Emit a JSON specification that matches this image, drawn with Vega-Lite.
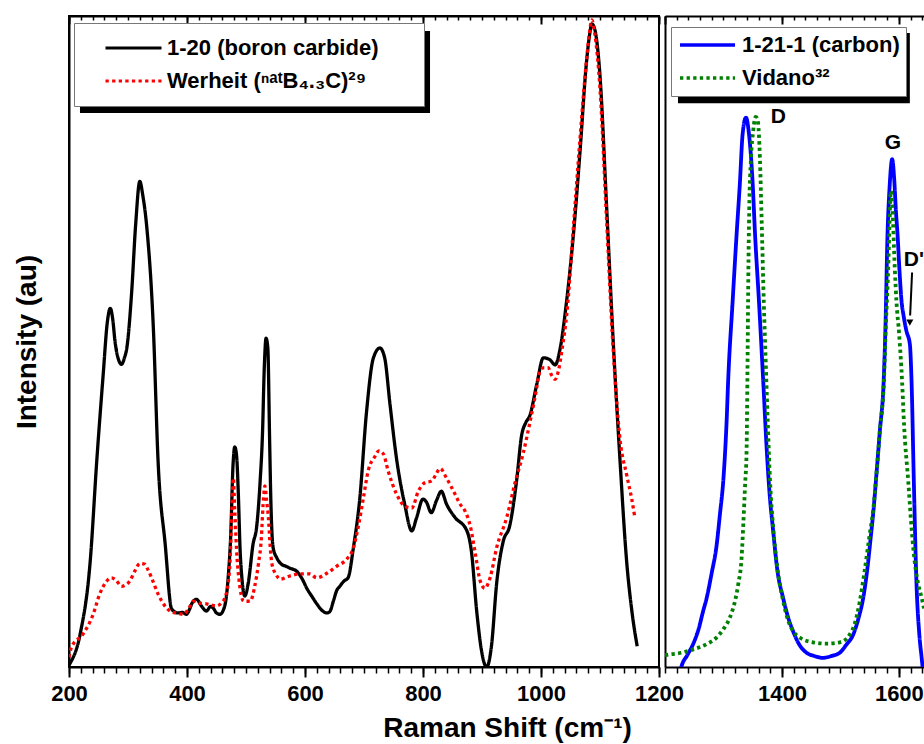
{
  "$schema": "https://vega.github.io/schema/vega-lite/v6.json",
  "background": "white",
  "padding": {"left": 12, "top": 14, "right": 0, "bottom": 0},
  "autosize": {"type": "pad"},
  "config": {
    "font": "Liberation Sans",
    "axis": {"grid": false, "domainColor": "black", "tickColor": "black", "labelColor": "black", "titleColor": "black"}
  },
  "datasets": {
    "boron": [
      {"shift": 200, "intensity": 0.3, "series": "1-20 (boron carbide)"},
      {"shift": 202, "intensity": 0.6, "series": "1-20 (boron carbide)"},
      {"shift": 219, "intensity": 5.1, "series": "1-20 (boron carbide)"},
      {"shift": 236, "intensity": 16.3, "series": "1-20 (boron carbide)"},
      {"shift": 247, "intensity": 31.6, "series": "1-20 (boron carbide)"},
      {"shift": 258, "intensity": 45, "series": "1-20 (boron carbide)"},
      {"shift": 265, "intensity": 53, "series": "1-20 (boron carbide)"},
      {"shift": 270, "intensity": 55.1, "series": "1-20 (boron carbide)"},
      {"shift": 274, "intensity": 53.5, "series": "1-20 (boron carbide)"},
      {"shift": 278, "intensity": 50, "series": "1-20 (boron carbide)"},
      {"shift": 284, "intensity": 47.2, "series": "1-20 (boron carbide)"},
      {"shift": 289, "intensity": 46.5, "series": "1-20 (boron carbide)"},
      {"shift": 294, "intensity": 47.5, "series": "1-20 (boron carbide)"},
      {"shift": 298, "intensity": 49, "series": "1-20 (boron carbide)"},
      {"shift": 306, "intensity": 57.3, "series": "1-20 (boron carbide)"},
      {"shift": 313, "intensity": 68, "series": "1-20 (boron carbide)"},
      {"shift": 320, "intensity": 74.6, "series": "1-20 (boron carbide)"},
      {"shift": 325, "intensity": 72.5, "series": "1-20 (boron carbide)"},
      {"shift": 332, "intensity": 67.4, "series": "1-20 (boron carbide)"},
      {"shift": 343, "intensity": 52, "series": "1-20 (boron carbide)"},
      {"shift": 351, "intensity": 31.6, "series": "1-20 (boron carbide)"},
      {"shift": 363, "intensity": 18.9, "series": "1-20 (boron carbide)"},
      {"shift": 374, "intensity": 8.9, "series": "1-20 (boron carbide)"},
      {"shift": 385, "intensity": 8.3, "series": "1-20 (boron carbide)"},
      {"shift": 392, "intensity": 8.4, "series": "1-20 (boron carbide)"},
      {"shift": 399, "intensity": 8.1, "series": "1-20 (boron carbide)"},
      {"shift": 404, "intensity": 8.8, "series": "1-20 (boron carbide)"},
      {"shift": 408, "intensity": 9.7, "series": "1-20 (boron carbide)"},
      {"shift": 416, "intensity": 10.4, "series": "1-20 (boron carbide)"},
      {"shift": 425, "intensity": 9.3, "series": "1-20 (boron carbide)"},
      {"shift": 433, "intensity": 8.6, "series": "1-20 (boron carbide)"},
      {"shift": 440, "intensity": 9.3, "series": "1-20 (boron carbide)"},
      {"shift": 444, "intensity": 9.1, "series": "1-20 (boron carbide)"},
      {"shift": 450, "intensity": 8.3, "series": "1-20 (boron carbide)"},
      {"shift": 456, "intensity": 8.1, "series": "1-20 (boron carbide)"},
      {"shift": 464, "intensity": 9.4, "series": "1-20 (boron carbide)"},
      {"shift": 470, "intensity": 14, "series": "1-20 (boron carbide)"},
      {"shift": 474, "intensity": 20, "series": "1-20 (boron carbide)"},
      {"shift": 478, "intensity": 31, "series": "1-20 (boron carbide)"},
      {"shift": 481, "intensity": 33.8, "series": "1-20 (boron carbide)"},
      {"shift": 484, "intensity": 32.5, "series": "1-20 (boron carbide)"},
      {"shift": 487, "intensity": 26.6, "series": "1-20 (boron carbide)"},
      {"shift": 490, "intensity": 18, "series": "1-20 (boron carbide)"},
      {"shift": 493, "intensity": 13.7, "series": "1-20 (boron carbide)"},
      {"shift": 498, "intensity": 10.9, "series": "1-20 (boron carbide)"},
      {"shift": 504, "intensity": 13, "series": "1-20 (boron carbide)"},
      {"shift": 512, "intensity": 18.9, "series": "1-20 (boron carbide)"},
      {"shift": 518, "intensity": 21.5, "series": "1-20 (boron carbide)"},
      {"shift": 524, "intensity": 28.6, "series": "1-20 (boron carbide)"},
      {"shift": 528, "intensity": 36, "series": "1-20 (boron carbide)"},
      {"shift": 531, "intensity": 46, "series": "1-20 (boron carbide)"},
      {"shift": 534, "intensity": 50.5, "series": "1-20 (boron carbide)"},
      {"shift": 537, "intensity": 49, "series": "1-20 (boron carbide)"},
      {"shift": 540, "intensity": 35, "series": "1-20 (boron carbide)"},
      {"shift": 542, "intensity": 26, "series": "1-20 (boron carbide)"},
      {"shift": 546, "intensity": 18.3, "series": "1-20 (boron carbide)"},
      {"shift": 552, "intensity": 16.8, "series": "1-20 (boron carbide)"},
      {"shift": 560, "intensity": 15.8, "series": "1-20 (boron carbide)"},
      {"shift": 567, "intensity": 15.5, "series": "1-20 (boron carbide)"},
      {"shift": 574, "intensity": 15.2, "series": "1-20 (boron carbide)"},
      {"shift": 586, "intensity": 14.7, "series": "1-20 (boron carbide)"},
      {"shift": 596, "intensity": 13.4, "series": "1-20 (boron carbide)"},
      {"shift": 603, "intensity": 12.1, "series": "1-20 (boron carbide)"},
      {"shift": 612, "intensity": 10.8, "series": "1-20 (boron carbide)"},
      {"shift": 620, "intensity": 9.7, "series": "1-20 (boron carbide)"},
      {"shift": 630, "intensity": 8.6, "series": "1-20 (boron carbide)"},
      {"shift": 637, "intensity": 8.3, "series": "1-20 (boron carbide)"},
      {"shift": 642, "intensity": 8.5, "series": "1-20 (boron carbide)"},
      {"shift": 648, "intensity": 10.1, "series": "1-20 (boron carbide)"},
      {"shift": 654, "intensity": 11.8, "series": "1-20 (boron carbide)"},
      {"shift": 659, "intensity": 12.4, "series": "1-20 (boron carbide)"},
      {"shift": 666, "intensity": 13.2, "series": "1-20 (boron carbide)"},
      {"shift": 673, "intensity": 13.7, "series": "1-20 (boron carbide)"},
      {"shift": 682, "intensity": 18.3, "series": "1-20 (boron carbide)"},
      {"shift": 693, "intensity": 26, "series": "1-20 (boron carbide)"},
      {"shift": 704, "intensity": 38.9, "series": "1-20 (boron carbide)"},
      {"shift": 716, "intensity": 47.5, "series": "1-20 (boron carbide)"},
      {"shift": 727, "intensity": 49, "series": "1-20 (boron carbide)"},
      {"shift": 735, "intensity": 47.5, "series": "1-20 (boron carbide)"},
      {"shift": 744, "intensity": 40.4, "series": "1-20 (boron carbide)"},
      {"shift": 755, "intensity": 32.1, "series": "1-20 (boron carbide)"},
      {"shift": 769, "intensity": 25, "series": "1-20 (boron carbide)"},
      {"shift": 781, "intensity": 20.9, "series": "1-20 (boron carbide)"},
      {"shift": 789, "intensity": 22.9, "series": "1-20 (boron carbide)"},
      {"shift": 800, "intensity": 25.8, "series": "1-20 (boron carbide)"},
      {"shift": 806, "intensity": 25.3, "series": "1-20 (boron carbide)"},
      {"shift": 814, "intensity": 23.7, "series": "1-20 (boron carbide)"},
      {"shift": 823, "intensity": 25.6, "series": "1-20 (boron carbide)"},
      {"shift": 831, "intensity": 27, "series": "1-20 (boron carbide)"},
      {"shift": 840, "intensity": 25, "series": "1-20 (boron carbide)"},
      {"shift": 854, "intensity": 23, "series": "1-20 (boron carbide)"},
      {"shift": 874, "intensity": 21, "series": "1-20 (boron carbide)"},
      {"shift": 882, "intensity": 17.8, "series": "1-20 (boron carbide)"},
      {"shift": 891, "intensity": 8.6, "series": "1-20 (boron carbide)"},
      {"shift": 899, "intensity": 2.6, "series": "1-20 (boron carbide)"},
      {"shift": 905, "intensity": 0.3, "series": "1-20 (boron carbide)"},
      {"shift": 908, "intensity": 0, "series": "1-20 (boron carbide)"},
      {"shift": 916, "intensity": 3.2, "series": "1-20 (boron carbide)"},
      {"shift": 925, "intensity": 13, "series": "1-20 (boron carbide)"},
      {"shift": 936, "intensity": 19.3, "series": "1-20 (boron carbide)"},
      {"shift": 947, "intensity": 21.7, "series": "1-20 (boron carbide)"},
      {"shift": 959, "intensity": 28.9, "series": "1-20 (boron carbide)"},
      {"shift": 967, "intensity": 35.5, "series": "1-20 (boron carbide)"},
      {"shift": 974, "intensity": 37.5, "series": "1-20 (boron carbide)"},
      {"shift": 981, "intensity": 38.6, "series": "1-20 (boron carbide)"},
      {"shift": 993, "intensity": 43.5, "series": "1-20 (boron carbide)"},
      {"shift": 1004, "intensity": 47.5, "series": "1-20 (boron carbide)"},
      {"shift": 1015, "intensity": 47.2, "series": "1-20 (boron carbide)"},
      {"shift": 1024, "intensity": 46.4, "series": "1-20 (boron carbide)"},
      {"shift": 1032, "intensity": 48.7, "series": "1-20 (boron carbide)"},
      {"shift": 1043, "intensity": 55.9, "series": "1-20 (boron carbide)"},
      {"shift": 1055, "intensity": 66.5, "series": "1-20 (boron carbide)"},
      {"shift": 1066, "intensity": 79, "series": "1-20 (boron carbide)"},
      {"shift": 1077, "intensity": 92.8, "series": "1-20 (boron carbide)"},
      {"shift": 1083, "intensity": 97.5, "series": "1-20 (boron carbide)"},
      {"shift": 1086, "intensity": 98.8, "series": "1-20 (boron carbide)"},
      {"shift": 1091, "intensity": 98, "series": "1-20 (boron carbide)"},
      {"shift": 1100, "intensity": 90.8, "series": "1-20 (boron carbide)"},
      {"shift": 1111, "intensity": 71.1, "series": "1-20 (boron carbide)"},
      {"shift": 1122, "intensity": 50.7, "series": "1-20 (boron carbide)"},
      {"shift": 1134, "intensity": 31.6, "series": "1-20 (boron carbide)"},
      {"shift": 1145, "intensity": 16.4, "series": "1-20 (boron carbide)"},
      {"shift": 1154, "intensity": 8.6, "series": "1-20 (boron carbide)"},
      {"shift": 1163, "intensity": 3.2, "series": "1-20 (boron carbide)"},
      {"shift": 200, "intensity": 1.5, "series": "Werheit (ⁿᵃᵗB₄.₃C)²⁹"},
      {"shift": 204, "intensity": 3, "series": "Werheit (ⁿᵃᵗB₄.₃C)²⁹"},
      {"shift": 224, "intensity": 5.1, "series": "Werheit (ⁿᵃᵗB₄.₃C)²⁹"},
      {"shift": 241, "intensity": 8.1, "series": "Werheit (ⁿᵃᵗB₄.₃C)²⁹"},
      {"shift": 252, "intensity": 11.2, "series": "Werheit (ⁿᵃᵗB₄.₃C)²⁹"},
      {"shift": 264, "intensity": 13.2, "series": "Werheit (ⁿᵃᵗB₄.₃C)²⁹"},
      {"shift": 272, "intensity": 13.7, "series": "Werheit (ⁿᵃᵗB₄.₃C)²⁹"},
      {"shift": 280, "intensity": 13.3, "series": "Werheit (ⁿᵃᵗB₄.₃C)²⁹"},
      {"shift": 289, "intensity": 12.4, "series": "Werheit (ⁿᵃᵗB₄.₃C)²⁹"},
      {"shift": 296, "intensity": 12.6, "series": "Werheit (ⁿᵃᵗB₄.₃C)²⁹"},
      {"shift": 303, "intensity": 13.2, "series": "Werheit (ⁿᵃᵗB₄.₃C)²⁹"},
      {"shift": 312, "intensity": 14.8, "series": "Werheit (ⁿᵃᵗB₄.₃C)²⁹"},
      {"shift": 320, "intensity": 15.9, "series": "Werheit (ⁿᵃᵗB₄.₃C)²⁹"},
      {"shift": 328, "intensity": 15.8, "series": "Werheit (ⁿᵃᵗB₄.₃C)²⁹"},
      {"shift": 334, "intensity": 14.9, "series": "Werheit (ⁿᵃᵗB₄.₃C)²⁹"},
      {"shift": 340, "intensity": 13.7, "series": "Werheit (ⁿᵃᵗB₄.₃C)²⁹"},
      {"shift": 351, "intensity": 11.2, "series": "Werheit (ⁿᵃᵗB₄.₃C)²⁹"},
      {"shift": 365, "intensity": 9.1, "series": "Werheit (ⁿᵃᵗB₄.₃C)²⁹"},
      {"shift": 376, "intensity": 8.4, "series": "Werheit (ⁿᵃᵗB₄.₃C)²⁹"},
      {"shift": 383, "intensity": 8.3, "series": "Werheit (ⁿᵃᵗB₄.₃C)²⁹"},
      {"shift": 394, "intensity": 8.1, "series": "Werheit (ⁿᵃᵗB₄.₃C)²⁹"},
      {"shift": 403, "intensity": 9, "series": "Werheit (ⁿᵃᵗB₄.₃C)²⁹"},
      {"shift": 411, "intensity": 10.1, "series": "Werheit (ⁿᵃᵗB₄.₃C)²⁹"},
      {"shift": 422, "intensity": 9.8, "series": "Werheit (ⁿᵃᵗB₄.₃C)²⁹"},
      {"shift": 433, "intensity": 9.7, "series": "Werheit (ⁿᵃᵗB₄.₃C)²⁹"},
      {"shift": 442, "intensity": 9.5, "series": "Werheit (ⁿᵃᵗB₄.₃C)²⁹"},
      {"shift": 450, "intensity": 9.4, "series": "Werheit (ⁿᵃᵗB₄.₃C)²⁹"},
      {"shift": 458, "intensity": 9.8, "series": "Werheit (ⁿᵃᵗB₄.₃C)²⁹"},
      {"shift": 464, "intensity": 10.6, "series": "Werheit (ⁿᵃᵗB₄.₃C)²⁹"},
      {"shift": 470, "intensity": 13, "series": "Werheit (ⁿᵃᵗB₄.₃C)²⁹"},
      {"shift": 473, "intensity": 16.3, "series": "Werheit (ⁿᵃᵗB₄.₃C)²⁹"},
      {"shift": 476, "intensity": 24, "series": "Werheit (ⁿᵃᵗB₄.₃C)²⁹"},
      {"shift": 478.5, "intensity": 29, "series": "Werheit (ⁿᵃᵗB₄.₃C)²⁹"},
      {"shift": 481, "intensity": 24, "series": "Werheit (ⁿᵃᵗB₄.₃C)²⁹"},
      {"shift": 484, "intensity": 18, "series": "Werheit (ⁿᵃᵗB₄.₃C)²⁹"},
      {"shift": 488, "intensity": 13.5, "series": "Werheit (ⁿᵃᵗB₄.₃C)²⁹"},
      {"shift": 492, "intensity": 11, "series": "Werheit (ⁿᵃᵗB₄.₃C)²⁹"},
      {"shift": 496, "intensity": 10.1, "series": "Werheit (ⁿᵃᵗB₄.₃C)²⁹"},
      {"shift": 507, "intensity": 10.1, "series": "Werheit (ⁿᵃᵗB₄.₃C)²⁹"},
      {"shift": 515, "intensity": 12.5, "series": "Werheit (ⁿᵃᵗB₄.₃C)²⁹"},
      {"shift": 521, "intensity": 15.8, "series": "Werheit (ⁿᵃᵗB₄.₃C)²⁹"},
      {"shift": 526, "intensity": 19.8, "series": "Werheit (ⁿᵃᵗB₄.₃C)²⁹"},
      {"shift": 529, "intensity": 25, "series": "Werheit (ⁿᵃᵗB₄.₃C)²⁹"},
      {"shift": 532, "intensity": 27.8, "series": "Werheit (ⁿᵃᵗB₄.₃C)²⁹"},
      {"shift": 535, "intensity": 25.5, "series": "Werheit (ⁿᵃᵗB₄.₃C)²⁹"},
      {"shift": 538, "intensity": 22.9, "series": "Werheit (ⁿᵃᵗB₄.₃C)²⁹"},
      {"shift": 541, "intensity": 18.5, "series": "Werheit (ⁿᵃᵗB₄.₃C)²⁹"},
      {"shift": 544, "intensity": 15.8, "series": "Werheit (ⁿᵃᵗB₄.₃C)²⁹"},
      {"shift": 551, "intensity": 14.2, "series": "Werheit (ⁿᵃᵗB₄.₃C)²⁹"},
      {"shift": 558, "intensity": 13.5, "series": "Werheit (ⁿᵃᵗB₄.₃C)²⁹"},
      {"shift": 575, "intensity": 14, "series": "Werheit (ⁿᵃᵗB₄.₃C)²⁹"},
      {"shift": 592, "intensity": 14.3, "series": "Werheit (ⁿᵃᵗB₄.₃C)²⁹"},
      {"shift": 608, "intensity": 14.3, "series": "Werheit (ⁿᵃᵗB₄.₃C)²⁹"},
      {"shift": 620, "intensity": 13.7, "series": "Werheit (ⁿᵃᵗB₄.₃C)²⁹"},
      {"shift": 637, "intensity": 14.4, "series": "Werheit (ⁿᵃᵗB₄.₃C)²⁹"},
      {"shift": 654, "intensity": 15.5, "series": "Werheit (ⁿᵃᵗB₄.₃C)²⁹"},
      {"shift": 671, "intensity": 16.6, "series": "Werheit (ⁿᵃᵗB₄.₃C)²⁹"},
      {"shift": 682, "intensity": 18.3, "series": "Werheit (ⁿᵃᵗB₄.₃C)²⁹"},
      {"shift": 690, "intensity": 21.4, "series": "Werheit (ⁿᵃᵗB₄.₃C)²⁹"},
      {"shift": 699, "intensity": 26, "series": "Werheit (ⁿᵃᵗB₄.₃C)²⁹"},
      {"shift": 707, "intensity": 30.1, "series": "Werheit (ⁿᵃᵗB₄.₃C)²⁹"},
      {"shift": 719, "intensity": 32.4, "series": "Werheit (ⁿᵃᵗB₄.₃C)²⁹"},
      {"shift": 725, "intensity": 33.2, "series": "Werheit (ⁿᵃᵗB₄.₃C)²⁹"},
      {"shift": 733, "intensity": 32.7, "series": "Werheit (ⁿᵃᵗB₄.₃C)²⁹"},
      {"shift": 741, "intensity": 30.1, "series": "Werheit (ⁿᵃᵗB₄.₃C)²⁹"},
      {"shift": 755, "intensity": 26.6, "series": "Werheit (ⁿᵃᵗB₄.₃C)²⁹"},
      {"shift": 769, "intensity": 24.7, "series": "Werheit (ⁿᵃᵗB₄.₃C)²⁹"},
      {"shift": 781, "intensity": 24.4, "series": "Werheit (ⁿᵃᵗB₄.₃C)²⁹"},
      {"shift": 792, "intensity": 27, "series": "Werheit (ⁿᵃᵗB₄.₃C)²⁹"},
      {"shift": 803, "intensity": 28.3, "series": "Werheit (ⁿᵃᵗB₄.₃C)²⁹"},
      {"shift": 815, "intensity": 28.6, "series": "Werheit (ⁿᵃᵗB₄.₃C)²⁹"},
      {"shift": 822, "intensity": 29.6, "series": "Werheit (ⁿᵃᵗB₄.₃C)²⁹"},
      {"shift": 829, "intensity": 30.5, "series": "Werheit (ⁿᵃᵗB₄.₃C)²⁹"},
      {"shift": 840, "intensity": 29, "series": "Werheit (ⁿᵃᵗB₄.₃C)²⁹"},
      {"shift": 854, "intensity": 26.6, "series": "Werheit (ⁿᵃᵗB₄.₃C)²⁹"},
      {"shift": 863, "intensity": 25, "series": "Werheit (ⁿᵃᵗB₄.₃C)²⁹"},
      {"shift": 871, "intensity": 24, "series": "Werheit (ⁿᵃᵗB₄.₃C)²⁹"},
      {"shift": 880, "intensity": 21.7, "series": "Werheit (ⁿᵃᵗB₄.₃C)²⁹"},
      {"shift": 888, "intensity": 17.8, "series": "Werheit (ⁿᵃᵗB₄.₃C)²⁹"},
      {"shift": 897, "intensity": 13.2, "series": "Werheit (ⁿᵃᵗB₄.₃C)²⁹"},
      {"shift": 905, "intensity": 12.1, "series": "Werheit (ⁿᵃᵗB₄.₃C)²⁹"},
      {"shift": 914, "intensity": 13.8, "series": "Werheit (ⁿᵃᵗB₄.₃C)²⁹"},
      {"shift": 925, "intensity": 18.4, "series": "Werheit (ⁿᵃᵗB₄.₃C)²⁹"},
      {"shift": 942, "intensity": 23, "series": "Werheit (ⁿᵃᵗB₄.₃C)²⁹"},
      {"shift": 956, "intensity": 28.3, "series": "Werheit (ⁿᵃᵗB₄.₃C)²⁹"},
      {"shift": 970, "intensity": 32.9, "series": "Werheit (ⁿᵃᵗB₄.₃C)²⁹"},
      {"shift": 981, "intensity": 37.5, "series": "Werheit (ⁿᵃᵗB₄.₃C)²⁹"},
      {"shift": 990, "intensity": 41.5, "series": "Werheit (ⁿᵃᵗB₄.₃C)²⁹"},
      {"shift": 998, "intensity": 45.3, "series": "Werheit (ⁿᵃᵗB₄.₃C)²⁹"},
      {"shift": 1005, "intensity": 46, "series": "Werheit (ⁿᵃᵗB₄.₃C)²⁹"},
      {"shift": 1012, "intensity": 46, "series": "Werheit (ⁿᵃᵗB₄.₃C)²⁹"},
      {"shift": 1018, "intensity": 44.8, "series": "Werheit (ⁿᵃᵗB₄.₃C)²⁹"},
      {"shift": 1024, "intensity": 44.2, "series": "Werheit (ⁿᵃᵗB₄.₃C)²⁹"},
      {"shift": 1029, "intensity": 45.3, "series": "Werheit (ⁿᵃᵗB₄.₃C)²⁹"},
      {"shift": 1036, "intensity": 49, "series": "Werheit (ⁿᵃᵗB₄.₃C)²⁹"},
      {"shift": 1044, "intensity": 54.5, "series": "Werheit (ⁿᵃᵗB₄.₃C)²⁹"},
      {"shift": 1055, "intensity": 67.7, "series": "Werheit (ⁿᵃᵗB₄.₃C)²⁹"},
      {"shift": 1066, "intensity": 81, "series": "Werheit (ⁿᵃᵗB₄.₃C)²⁹"},
      {"shift": 1078, "intensity": 94, "series": "Werheit (ⁿᵃᵗB₄.₃C)²⁹"},
      {"shift": 1083, "intensity": 98, "series": "Werheit (ⁿᵃᵗB₄.₃C)²⁹"},
      {"shift": 1086, "intensity": 99.4, "series": "Werheit (ⁿᵃᵗB₄.₃C)²⁹"},
      {"shift": 1091, "intensity": 97.4, "series": "Werheit (ⁿᵃᵗB₄.₃C)²⁹"},
      {"shift": 1100, "intensity": 88.8, "series": "Werheit (ⁿᵃᵗB₄.₃C)²⁹"},
      {"shift": 1111, "intensity": 69, "series": "Werheit (ⁿᵃᵗB₄.₃C)²⁹"},
      {"shift": 1122, "intensity": 49.3, "series": "Werheit (ⁿᵃᵗB₄.₃C)²⁹"},
      {"shift": 1134, "intensity": 34.9, "series": "Werheit (ⁿᵃᵗB₄.₃C)²⁹"},
      {"shift": 1145, "intensity": 29.6, "series": "Werheit (ⁿᵃᵗB₄.₃C)²⁹"},
      {"shift": 1154, "intensity": 25.7, "series": "Werheit (ⁿᵃᵗB₄.₃C)²⁹"},
      {"shift": 1159, "intensity": 23, "series": "Werheit (ⁿᵃᵗB₄.₃C)²⁹"}
    ],
    "carbon": [
      {"shift": 1215, "intensity": -6, "series": "1-21-1 (carbon)"},
      {"shift": 1228.5, "intensity": 0.2, "series": "1-21-1 (carbon)"},
      {"shift": 1238, "intensity": 1.8, "series": "1-21-1 (carbon)"},
      {"shift": 1248, "intensity": 3.5, "series": "1-21-1 (carbon)"},
      {"shift": 1258, "intensity": 6, "series": "1-21-1 (carbon)"},
      {"shift": 1265, "intensity": 8.5, "series": "1-21-1 (carbon)"},
      {"shift": 1271, "intensity": 10.5, "series": "1-21-1 (carbon)"},
      {"shift": 1280, "intensity": 14.5, "series": "1-21-1 (carbon)"},
      {"shift": 1288, "intensity": 18.5, "series": "1-21-1 (carbon)"},
      {"shift": 1294, "intensity": 23.5, "series": "1-21-1 (carbon)"},
      {"shift": 1300, "intensity": 29, "series": "1-21-1 (carbon)"},
      {"shift": 1305.5, "intensity": 38, "series": "1-21-1 (carbon)"},
      {"shift": 1308, "intensity": 43.9, "series": "1-21-1 (carbon)"},
      {"shift": 1315.7, "intensity": 56.2, "series": "1-21-1 (carbon)"},
      {"shift": 1322.5, "intensity": 66.5, "series": "1-21-1 (carbon)"},
      {"shift": 1328, "intensity": 74.2, "series": "1-21-1 (carbon)"},
      {"shift": 1332.8, "intensity": 81.9, "series": "1-21-1 (carbon)"},
      {"shift": 1338.5, "intensity": 84.4, "series": "1-21-1 (carbon)"},
      {"shift": 1343.6, "intensity": 81.9, "series": "1-21-1 (carbon)"},
      {"shift": 1350, "intensity": 74.2, "series": "1-21-1 (carbon)"},
      {"shift": 1354, "intensity": 66.5, "series": "1-21-1 (carbon)"},
      {"shift": 1360.7, "intensity": 56.2, "series": "1-21-1 (carbon)"},
      {"shift": 1368, "intensity": 43.9, "series": "1-21-1 (carbon)"},
      {"shift": 1373.8, "intensity": 33.7, "series": "1-21-1 (carbon)"},
      {"shift": 1379, "intensity": 26.5, "series": "1-21-1 (carbon)"},
      {"shift": 1385, "intensity": 20.9, "series": "1-21-1 (carbon)"},
      {"shift": 1392, "intensity": 15, "series": "1-21-1 (carbon)"},
      {"shift": 1402, "intensity": 10.6, "series": "1-21-1 (carbon)"},
      {"shift": 1410, "intensity": 7.8, "series": "1-21-1 (carbon)"},
      {"shift": 1419, "intensity": 5.5, "series": "1-21-1 (carbon)"},
      {"shift": 1430, "intensity": 3.4, "series": "1-21-1 (carbon)"},
      {"shift": 1442, "intensity": 2.2, "series": "1-21-1 (carbon)"},
      {"shift": 1455, "intensity": 1.7, "series": "1-21-1 (carbon)"},
      {"shift": 1470, "intensity": 1.4, "series": "1-21-1 (carbon)"},
      {"shift": 1485, "intensity": 1.7, "series": "1-21-1 (carbon)"},
      {"shift": 1499, "intensity": 2.2, "series": "1-21-1 (carbon)"},
      {"shift": 1510, "intensity": 3.4, "series": "1-21-1 (carbon)"},
      {"shift": 1522, "intensity": 5, "series": "1-21-1 (carbon)"},
      {"shift": 1531, "intensity": 7.5, "series": "1-21-1 (carbon)"},
      {"shift": 1539, "intensity": 10.6, "series": "1-21-1 (carbon)"},
      {"shift": 1546, "intensity": 15, "series": "1-21-1 (carbon)"},
      {"shift": 1552, "intensity": 20, "series": "1-21-1 (carbon)"},
      {"shift": 1556, "intensity": 23.5, "series": "1-21-1 (carbon)"},
      {"shift": 1562, "intensity": 30, "series": "1-21-1 (carbon)"},
      {"shift": 1567.5, "intensity": 36.3, "series": "1-21-1 (carbon)"},
      {"shift": 1574, "intensity": 43.9, "series": "1-21-1 (carbon)"},
      {"shift": 1577, "intensity": 52, "series": "1-21-1 (carbon)"},
      {"shift": 1580.6, "intensity": 66.5, "series": "1-21-1 (carbon)"},
      {"shift": 1584, "intensity": 73.5, "series": "1-21-1 (carbon)"},
      {"shift": 1588.6, "intensity": 78, "series": "1-21-1 (carbon)"},
      {"shift": 1592, "intensity": 75, "series": "1-21-1 (carbon)"},
      {"shift": 1595, "intensity": 70, "series": "1-21-1 (carbon)"},
      {"shift": 1597.7, "intensity": 66.5, "series": "1-21-1 (carbon)"},
      {"shift": 1601, "intensity": 61, "series": "1-21-1 (carbon)"},
      {"shift": 1604.6, "intensity": 56.2, "series": "1-21-1 (carbon)"},
      {"shift": 1608, "intensity": 54, "series": "1-21-1 (carbon)"},
      {"shift": 1613, "intensity": 51.6, "series": "1-21-1 (carbon)"},
      {"shift": 1618.8, "intensity": 49.6, "series": "1-21-1 (carbon)"},
      {"shift": 1621.7, "intensity": 43.9, "series": "1-21-1 (carbon)"},
      {"shift": 1625.6, "intensity": 28.6, "series": "1-21-1 (carbon)"},
      {"shift": 1630, "intensity": 13.2, "series": "1-21-1 (carbon)"},
      {"shift": 1635, "intensity": 5, "series": "1-21-1 (carbon)"},
      {"shift": 1639, "intensity": 1.4, "series": "1-21-1 (carbon)"},
      {"shift": 1643, "intensity": -2, "series": "1-21-1 (carbon)"},
      {"shift": 1648, "intensity": -6, "series": "1-21-1 (carbon)"},
      {"shift": 1200, "intensity": 1.8, "series": "Vidano³²"},
      {"shift": 1205.6, "intensity": 1.9, "series": "Vidano³²"},
      {"shift": 1228.5, "intensity": 2.2, "series": "Vidano³²"},
      {"shift": 1248.4, "intensity": 2.7, "series": "Vidano³²"},
      {"shift": 1271, "intensity": 3.5, "series": "Vidano³²"},
      {"shift": 1288, "intensity": 4.5, "series": "Vidano³²"},
      {"shift": 1299.7, "intensity": 5.8, "series": "Vidano³²"},
      {"shift": 1311, "intensity": 7.6, "series": "Vidano³²"},
      {"shift": 1319.7, "intensity": 10.1, "series": "Vidano³²"},
      {"shift": 1325.3, "intensity": 12.7, "series": "Vidano³²"},
      {"shift": 1331, "intensity": 16.8, "series": "Vidano³²"},
      {"shift": 1334, "intensity": 22, "series": "Vidano³²"},
      {"shift": 1337, "intensity": 28, "series": "Vidano³²"},
      {"shift": 1339.5, "intensity": 33, "series": "Vidano³²"},
      {"shift": 1341, "intensity": 45, "series": "Vidano³²"},
      {"shift": 1342.5, "intensity": 60, "series": "Vidano³²"},
      {"shift": 1344, "intensity": 70, "series": "Vidano³²"},
      {"shift": 1347, "intensity": 78, "series": "Vidano³²"},
      {"shift": 1351, "intensity": 82.5, "series": "Vidano³²"},
      {"shift": 1355, "intensity": 84.5, "series": "Vidano³²"},
      {"shift": 1358, "intensity": 84.2, "series": "Vidano³²"},
      {"shift": 1360.5, "intensity": 82, "series": "Vidano³²"},
      {"shift": 1362.4, "intensity": 78, "series": "Vidano³²"},
      {"shift": 1365.2, "intensity": 69, "series": "Vidano³²"},
      {"shift": 1369, "intensity": 56, "series": "Vidano³²"},
      {"shift": 1372.6, "intensity": 46, "series": "Vidano³²"},
      {"shift": 1376, "intensity": 37, "series": "Vidano³²"},
      {"shift": 1380, "intensity": 28, "series": "Vidano³²"},
      {"shift": 1385, "intensity": 21.5, "series": "Vidano³²"},
      {"shift": 1391, "intensity": 16, "series": "Vidano³²"},
      {"shift": 1402, "intensity": 10.2, "series": "Vidano³²"},
      {"shift": 1410, "intensity": 7.3, "series": "Vidano³²"},
      {"shift": 1420, "intensity": 5.4, "series": "Vidano³²"},
      {"shift": 1431, "intensity": 4.5, "series": "Vidano³²"},
      {"shift": 1453, "intensity": 3.8, "series": "Vidano³²"},
      {"shift": 1476, "intensity": 3.6, "series": "Vidano³²"},
      {"shift": 1499, "intensity": 3.8, "series": "Vidano³²"},
      {"shift": 1510, "intensity": 4.3, "series": "Vidano³²"},
      {"shift": 1516, "intensity": 5, "series": "Vidano³²"},
      {"shift": 1524, "intensity": 6.5, "series": "Vidano³²"},
      {"shift": 1533, "intensity": 10, "series": "Vidano³²"},
      {"shift": 1541, "intensity": 14.5, "series": "Vidano³²"},
      {"shift": 1550, "intensity": 20.3, "series": "Vidano³²"},
      {"shift": 1556, "intensity": 24, "series": "Vidano³²"},
      {"shift": 1562, "intensity": 30, "series": "Vidano³²"},
      {"shift": 1567.5, "intensity": 36.3, "series": "Vidano³²"},
      {"shift": 1574.4, "intensity": 43.9, "series": "Vidano³²"},
      {"shift": 1578, "intensity": 53, "series": "Vidano³²"},
      {"shift": 1581.8, "intensity": 61.3, "series": "Vidano³²"},
      {"shift": 1584, "intensity": 68, "series": "Vidano³²"},
      {"shift": 1586.3, "intensity": 73.1, "series": "Vidano³²"},
      {"shift": 1589, "intensity": 70.5, "series": "Vidano³²"},
      {"shift": 1593, "intensity": 61.3, "series": "Vidano³²"},
      {"shift": 1596, "intensity": 56, "series": "Vidano³²"},
      {"shift": 1600.5, "intensity": 51.1, "series": "Vidano³²"},
      {"shift": 1605.5, "intensity": 43.9, "series": "Vidano³²"},
      {"shift": 1609, "intensity": 37, "series": "Vidano³²"},
      {"shift": 1616, "intensity": 28.6, "series": "Vidano³²"},
      {"shift": 1622, "intensity": 21, "series": "Vidano³²"},
      {"shift": 1628, "intensity": 15.5, "series": "Vidano³²"},
      {"shift": 1633, "intensity": 12.8, "series": "Vidano³²"},
      {"shift": 1639, "intensity": 10.6, "series": "Vidano³²"},
      {"shift": 1643, "intensity": 9, "series": "Vidano³²"}
    ],
    "peaks": [
      {"shift": 1381, "intensity": 84.5, "label": "D"},
      {"shift": 1576, "intensity": 80.5, "label": "G"},
      {"shift": 1608.5, "intensity": 62.5, "label": "D'"}
    ],
    "arrow": [
      {"shift": 1622.6, "intensity": 60.6, "shift2": 1619.3, "intensity2": 54}
    ],
    "arrowhead": [
      {"shift": 1618.7, "intensity": 52.9}
    ]
  },
  "hconcat": [
    {
      "width": 590,
      "height": 651,
      "view": {"stroke": "black", "strokeWidth": 2},
      "data": {"name": "boron"},
      "layer": [
        {
          "data": {"values": [{}]},
          "mark": {"type": "rect", "color": "black"},
          "encoding": {
            "x": {"datum": 218.6, "type": "quantitative", "scale": {"domain": [200, 1200], "nice": false, "zero": false}, "axis": null},
            "x2": {"datum": 811.9},
            "y": {"datum": 97.7, "type": "quantitative", "scale": {"domain": [0, 100], "nice": false, "zero": false},
              "axis": {"orient": "left", "ticks": false, "labels": false, "domain": true, "domainWidth": 2, "title": "Intensity (au)", "titleFontSize": 28, "titleFontWeight": "bold", "titlePadding": 28}},
            "y2": {"datum": 85.1}
          }
        },
        {
          "mark": {"type": "line", "strokeWidth": 3.3, "interpolate": "monotone", "clip": true},
          "encoding": {
            "x": {"field": "shift", "type": "quantitative", "scale": {"domain": [200, 1200], "nice": false, "zero": false},
              "axis": {"orient": "bottom", "values": [200, 400, 600, 800, 1000, 1200], "format": "d", "tickSize": 10, "tickWidth": 2, "domain": true, "domainWidth": 2, "labelFontSize": 22, "labelFontWeight": "bold", "labelPadding": 6, "labelFlush": false, "labelOverlap": false, "title": "Raman Shift (cm⁻¹)", "titleFontSize": 28, "titleFontWeight": "bold", "titleX": 438, "titleY": 69, "titleBaseline": "alphabetic", "titleAlign": "center"}},
            "y": {"field": "intensity", "type": "quantitative", "scale": {"domain": [0, 100], "nice": false, "zero": false},
              "axis": {"orient": "left", "ticks": false, "labels": false, "domain": true, "domainWidth": 2, "title": "Intensity (au)", "titleFontSize": 28, "titleFontWeight": "bold", "titlePadding": 28}},
            "color": {"field": "series", "type": "nominal",
              "scale": {"domain": ["1-20 (boron carbide)", "Werheit (ⁿᵃᵗB₄.₃C)²⁹"], "range": ["#000000", "#ff0000"]},
              "legend": {"orient": "none", "legendX": 5, "legendY": 7, "title": null, "padding": 13, "symbolOffset": 17, "clipHeight": 24, "rowPadding": 9, "symbolSize": 3136, "symbolType": "stroke", "symbolStrokeWidth": 3, "labelFontSize": 22, "labelFontWeight": "bold", "labelColor": "black", "labelOffset": 4, "labelLimit": 500, "strokeColor": "#777777", "fillColor": "white", "labelExpr": "datum.label + '\u2800\u2800'"}},
            "strokeDash": {"field": "series", "type": "nominal",
              "scale": {"domain": ["1-20 (boron carbide)", "Werheit (ⁿᵃᵗB₄.₃C)²⁹"], "range": [[1, 0], [3.3, 3.3]]},
              "legend": {"orient": "none", "legendX": 5, "legendY": 7, "title": null, "padding": 13, "symbolOffset": 17, "clipHeight": 24, "rowPadding": 9, "symbolSize": 3136, "symbolType": "stroke", "symbolStrokeWidth": 3, "labelFontSize": 22, "labelFontWeight": "bold", "labelColor": "black", "labelOffset": 4, "labelLimit": 500, "strokeColor": "#777777", "fillColor": "white", "labelExpr": "datum.label + '\u2800\u2800'"}}
          }
        },
        {
          "mark": {"type": "point", "opacity": 0, "size": 2},
          "encoding": {
            "x": {"field": "shift", "type": "quantitative", "scale": {"domain": [200, 1200], "nice": false, "zero": false},
              "axis": {"orient": "bottom", "values": [200, 220, 240, 260, 280, 300, 320, 340, 360, 380, 400, 420, 440, 460, 480, 500, 520, 540, 560, 580, 600, 620, 640, 660, 680, 700, 720, 740, 760, 780, 800, 820, 840, 860, 880, 900, 920, 940, 960, 980, 1000, 1020, 1040, 1060, 1080, 1100, 1120, 1140, 1160, 1180, 1200], "tickSize": 6, "tickWidth": 1.5, "domain": false, "labels": false, "title": null}},
            "y": {"field": "intensity", "type": "quantitative", "scale": {"domain": [0, 100], "nice": false, "zero": false},
              "axis": {"orient": "left", "ticks": false, "labels": false, "domain": true, "domainWidth": 2, "title": "Intensity (au)", "titleFontSize": 28, "titleFontWeight": "bold", "titlePadding": 28}}
          }
        },
        {
          "mark": {"type": "point", "opacity": 0, "size": 2},
          "encoding": {
            "x": {"field": "shift", "type": "quantitative", "scale": {"domain": [200, 1200], "nice": false, "zero": false},
              "axis": {"orient": "top", "values": [200, 400, 600, 800, 1000, 1200], "tickSize": -8, "tickWidth": 2, "domain": true, "domainWidth": 2, "labels": false, "title": null}},
            "y": {"field": "intensity", "type": "quantitative", "scale": {"domain": [0, 100], "nice": false, "zero": false},
              "axis": {"orient": "left", "ticks": false, "labels": false, "domain": true, "domainWidth": 2, "title": "Intensity (au)", "titleFontSize": 28, "titleFontWeight": "bold", "titlePadding": 28}}
          }
        },
        {
          "mark": {"type": "point", "opacity": 0, "size": 2},
          "encoding": {
            "x": {"field": "shift", "type": "quantitative", "scale": {"domain": [200, 1200], "nice": false, "zero": false},
              "axis": {"orient": "top", "values": [200, 220, 240, 260, 280, 300, 320, 340, 360, 380, 400, 420, 440, 460, 480, 500, 520, 540, 560, 580, 600, 620, 640, 660, 680, 700, 720, 740, 760, 780, 800, 820, 840, 860, 880, 900, 920, 940, 960, 980, 1000, 1020, 1040, 1060, 1080, 1100, 1120, 1140, 1160, 1180, 1200], "tickSize": -4, "tickWidth": 1.5, "domain": false, "labels": false, "title": null}},
            "y": {"field": "intensity", "type": "quantitative", "scale": {"domain": [0, 100], "nice": false, "zero": false},
              "axis": {"orient": "left", "ticks": false, "labels": false, "domain": true, "domainWidth": 2, "title": "Intensity (au)", "titleFontSize": 28, "titleFontWeight": "bold", "titlePadding": 28}}
          }
        }
      ],
      "resolve": {"axis": {"x": "independent", "y": "shared"}}
    },
    {
      "width": 259,
      "height": 651,
      "view": {"stroke": null},
      "layer": [
        {
          "data": {"values": [{}]},
          "mark": {"type": "rect", "color": "black"},
          "encoding": {
            "x": {"datum": 1222.2, "type": "quantitative", "scale": {"domain": [1200, 1643], "nice": false, "zero": false}, "axis": null},
            "x2": {"datum": 1618.8},
            "y": {"datum": 97.4, "type": "quantitative", "scale": {"domain": [0, 100], "nice": false, "zero": false},
              "axis": {"orient": "left", "ticks": false, "labels": false, "domain": true, "domainWidth": 2, "title": null}},
            "y2": {"datum": 86.6}
          }
        },
        {
          "data": {"name": "carbon"},
          "mark": {"type": "line", "strokeWidth": 3.8, "interpolate": "monotone", "clip": true},
          "encoding": {
            "x": {"field": "shift", "type": "quantitative", "scale": {"domain": [1200, 1643], "nice": false, "zero": false},
              "axis": {"orient": "bottom", "values": [1400, 1600], "format": "d", "tickSize": 10, "tickWidth": 2, "domain": true, "domainWidth": 2, "labelFontSize": 22, "labelFontWeight": "bold", "labelPadding": 6, "labelFlush": false, "labelOverlap": false, "title": null}},
            "y": {"field": "intensity", "type": "quantitative", "scale": {"domain": [0, 100], "nice": false, "zero": false},
              "axis": {"orient": "left", "ticks": false, "labels": false, "domain": true, "domainWidth": 2, "title": null}},
            "color": {"field": "series", "type": "nominal",
              "scale": {"domain": ["1-21-1 (carbon)", "Vidano³²"], "range": ["#0000ff", "#008000"]},
              "legend": {"orient": "none", "legendX": 6, "legendY": 11, "title": null, "padding": 6, "symbolOffset": 1, "clipHeight": 24, "rowPadding": 9, "symbolSize": 3025, "symbolType": "stroke", "symbolStrokeWidth": 3.5, "labelFontSize": 22, "labelFontWeight": "bold", "labelColor": "black", "labelOffset": 5, "labelLimit": 500, "strokeColor": "#777777", "fillColor": "white"}},
            "strokeDash": {"field": "series", "type": "nominal",
              "scale": {"domain": ["1-21-1 (carbon)", "Vidano³²"], "range": [[1, 0], [3.3, 3.3]]},
              "legend": {"orient": "none", "legendX": 6, "legendY": 11, "title": null, "padding": 6, "symbolOffset": 1, "clipHeight": 24, "rowPadding": 9, "symbolSize": 3025, "symbolType": "stroke", "symbolStrokeWidth": 3.5, "labelFontSize": 22, "labelFontWeight": "bold", "labelColor": "black", "labelOffset": 5, "labelLimit": 500, "strokeColor": "#777777", "fillColor": "white"}}
          }
        },
        {
          "data": {"name": "carbon"},
          "mark": {"type": "point", "opacity": 0, "size": 2, "clip": true},
          "encoding": {
            "x": {"field": "shift", "type": "quantitative", "scale": {"domain": [1200, 1643], "nice": false, "zero": false},
              "axis": {"orient": "bottom", "values": [1200, 1220, 1240, 1260, 1280, 1300, 1320, 1340, 1360, 1380, 1400, 1420, 1440, 1460, 1480, 1500, 1520, 1540, 1560, 1580, 1600, 1620, 1640], "tickSize": 6, "tickWidth": 1.5, "domain": false, "labels": false, "title": null}},
            "y": {"field": "intensity", "type": "quantitative", "scale": {"domain": [0, 100], "nice": false, "zero": false},
              "axis": {"orient": "left", "ticks": false, "labels": false, "domain": true, "domainWidth": 2, "title": null}}
          }
        },
        {
          "data": {"name": "carbon"},
          "mark": {"type": "point", "opacity": 0, "size": 2, "clip": true},
          "encoding": {
            "x": {"field": "shift", "type": "quantitative", "scale": {"domain": [1200, 1643], "nice": false, "zero": false},
              "axis": {"orient": "top", "values": [1200, 1400, 1600], "tickSize": -8, "tickWidth": 2, "domain": true, "domainWidth": 2, "labels": false, "title": null}},
            "y": {"field": "intensity", "type": "quantitative", "scale": {"domain": [0, 100], "nice": false, "zero": false},
              "axis": {"orient": "left", "ticks": false, "labels": false, "domain": true, "domainWidth": 2, "title": null}}
          }
        },
        {
          "data": {"name": "carbon"},
          "mark": {"type": "point", "opacity": 0, "size": 2, "clip": true},
          "encoding": {
            "x": {"field": "shift", "type": "quantitative", "scale": {"domain": [1200, 1643], "nice": false, "zero": false},
              "axis": {"orient": "top", "values": [1200, 1220, 1240, 1260, 1280, 1300, 1320, 1340, 1360, 1380, 1400, 1420, 1440, 1460, 1480, 1500, 1520, 1540, 1560, 1580, 1600, 1620, 1640], "tickSize": -4, "tickWidth": 1.5, "domain": false, "labels": false, "title": null}},
            "y": {"field": "intensity", "type": "quantitative", "scale": {"domain": [0, 100], "nice": false, "zero": false},
              "axis": {"orient": "left", "ticks": false, "labels": false, "domain": true, "domainWidth": 2, "title": null}}
          }
        },
        {
          "data": {"name": "peaks"},
          "mark": {"type": "text", "align": "left", "baseline": "middle", "fontSize": 21, "fontWeight": "bold", "color": "black", "clip": true},
          "encoding": {
            "x": {"field": "shift", "type": "quantitative", "scale": {"domain": [1200, 1643], "nice": false, "zero": false}, "axis": null},
            "y": {"field": "intensity", "type": "quantitative", "scale": {"domain": [0, 100], "nice": false, "zero": false},
              "axis": {"orient": "left", "ticks": false, "labels": false, "domain": true, "domainWidth": 2, "title": null}},
            "text": {"field": "label", "type": "nominal"}
          }
        },
        {
          "data": {"name": "arrow"},
          "mark": {"type": "rule", "strokeWidth": 2, "color": "black"},
          "encoding": {
            "x": {"field": "shift", "type": "quantitative", "scale": {"domain": [1200, 1643], "nice": false, "zero": false}, "axis": null},
            "y": {"field": "intensity", "type": "quantitative", "scale": {"domain": [0, 100], "nice": false, "zero": false},
              "axis": {"orient": "left", "ticks": false, "labels": false, "domain": true, "domainWidth": 2, "title": null}},
            "x2": {"field": "shift2"},
            "y2": {"field": "intensity2"}
          }
        },
        {
          "data": {"name": "arrowhead"},
          "mark": {"type": "point", "shape": "triangle-down", "filled": true, "size": 50, "color": "black", "opacity": 1},
          "encoding": {
            "x": {"field": "shift", "type": "quantitative", "scale": {"domain": [1200, 1643], "nice": false, "zero": false}, "axis": null},
            "y": {"field": "intensity", "type": "quantitative", "scale": {"domain": [0, 100], "nice": false, "zero": false},
              "axis": {"orient": "left", "ticks": false, "labels": false, "domain": true, "domainWidth": 2, "title": null}}
          }
        }
      ],
      "resolve": {"axis": {"x": "independent", "y": "shared"}}
    }
  ],
  "spacing": 6,
  "bounds": "flush",
  "resolve": {
    "scale": {"color": "independent", "strokeDash": "independent", "x": "independent", "y": "independent"},
    "legend": {"color": "independent", "strokeDash": "independent"}
  }
}
